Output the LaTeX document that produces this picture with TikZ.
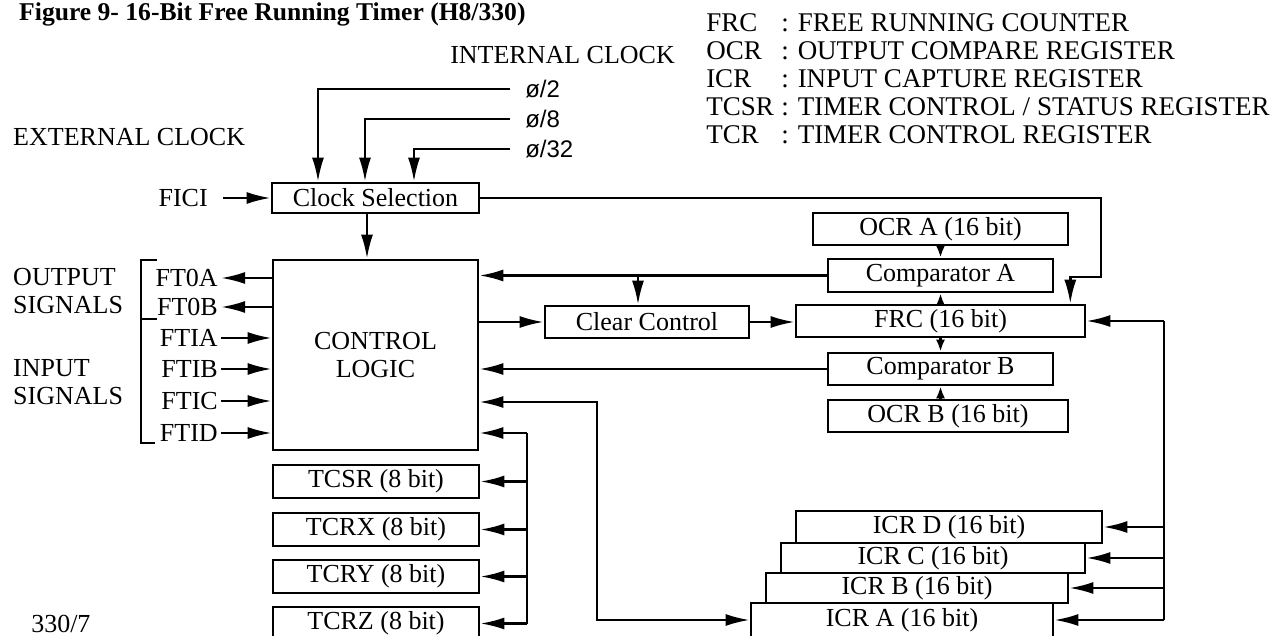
\documentclass[tikz,border=0pt]{standalone}
\usepackage{fontspec}
\setmainfont{Liberation Serif}
\newfontfamily\phifont{Liberation Sans}
\usetikzlibrary{arrows.meta}

\begin{document}
\begin{tikzpicture}[x=0.5pt, y=-0.5pt, >={Latex[length=12pt,width=6pt]},
    line width=1.25pt, font=\fontsize{13}{14}\selectfont,
    box/.style={draw, rectangle, inner sep=0pt, line width=1.3pt},
    tip/.style={-{Latex[length=6pt,width=4.5pt]}},
    txt/.style={inner sep=1pt},
    phi/.style={font=\phifont\fontsize{12}{14}\selectfont, inner xsep=7pt, inner ysep=1pt, anchor=west}]

  \useasboundingbox (0,0) rectangle (1275,636);
  \clip (0,0) rectangle (1275,636);

  % heading and legend
  \node[txt, anchor=west, font=\fontsize{12.8}{14}\selectfont\bfseries] (title) at (16,14) {Figure 9- 16-Bit Free Running Timer (H8/330)};
  \foreach \ab/\txt [count=\i] in {FRC/FREE RUNNING COUNTER, OCR/OUTPUT COMPARE REGISTER,
      ICR/INPUT CAPTURE REGISTER, TCSR/{TIMER CONTROL / STATUS REGISTER}, TCR/TIMER CONTROL REGISTER}
  {
    \node[txt, anchor=west, font=\fontsize{13.5}{14}\selectfont] (key\i) at (703,{23+28*(\i-1)}) {\ab};
    \node[txt, anchor=west, font=\fontsize{13.5}{14}\selectfont] (def\i) at (778,{23+28*(\i-1)}) {: \txt};
  }

  % clock sources
  \node[txt, anchor=west] (intclk) at (447,55) {INTERNAL CLOCK};
  \node[txt, anchor=west] (extclk) at (10,137) {EXTERNAL CLOCK};
  \node[phi] (ph2) at (510,89) {ø/2};
  \node[phi] (ph8) at (510,119) {ø/8};
  \node[phi] (ph32) at (510,149) {ø/32};
  \node[box, minimum width=103.5pt, minimum height=15pt] (clk) at (375.5,198) {Clock Selection};
  \node[txt, anchor=east, inner xsep=7pt] (fici) at (223,198) {FICI};

  \draw[->] (fici) -- (clk);
  \draw[->] (ph2.west) -| ([xshift=-28.75pt]clk.north);
  \draw[->] (ph8.west) -| ([xshift=-5.25pt]clk.north);
  \draw[->] (ph32.west) -| ([xshift=19.25pt]clk.north);

  % control logic and its pins
  \node[box, minimum width=102.5pt, minimum height=95pt, align=center] (ctl) at (375.5,355) {CONTROL\\LOGIC};
  \draw[->] ([xshift=-4.25pt]clk.south) -- ([xshift=-4.25pt]ctl.north);

  \foreach \p/\y in {FT0A/278, FT0B/307}
  {
    \node[txt, anchor=east] (\p) at (221,\y) {\p};
    \draw[->] (ctl.west |- \p) -- (\p);
  }
  \foreach \p/\y in {FTIA/338, FTIB/369, FTIC/401, FTID/433}
  {
    \node[txt, anchor=east] (\p) at (221,\y) {\p};
    \draw[->] (\p) -- (ctl.west |- \p);
  }
  \draw (157,260) -- (141,260) -- (141,443) -- (155,443) (141,319) -- (157,319);
  \node[txt, anchor=west, align=left] (outsig) at (10,291) {OUTPUT\\SIGNALS};
  \node[txt, anchor=west, align=left] (insig) at (10,382) {INPUT\\SIGNALS};

  % timer control registers
  \foreach \b/\y in {TCSR/481.5, TCRX/529.5, TCRY/576.5, TCRZ/623.5}
    \node[box, minimum width=103pt, minimum height=16.5pt] (\b) at (376,\y) {\b\ (8 bit)};
  \coordinate (ctlbus) at (527,433);
  \draw[->] (ctlbus) -- (ctlbus -| ctl.east);
  \draw (ctlbus) -- (ctlbus |- TCRZ.east);
  \foreach \b in {TCSR,TCRX,TCRY,TCRZ}
    \draw[->] (ctlbus |- \b.east) -- (\b.east);

  % counter, compare registers
  \node[box, minimum width=102pt, minimum height=16pt] (clr) at (647,322) {Clear Control};
  \node[box, minimum width=127.5pt, minimum height=16pt] (ocra) at (940.5,229) {OCR A (16 bit)};
  \node[box, minimum width=112.5pt, minimum height=16.5pt] (cmpa) at (940.5,275.5) {Comparator A};
  \node[box, minimum width=144.5pt, minimum height=16pt] (frc) at (940.5,321) {FRC (16 bit)};
  \node[box, minimum width=112.5pt, minimum height=16pt] (cmpb) at (940.5,369) {Comparator B};
  \node[box, minimum width=120pt, minimum height=16pt] (ocrb) at (948,416) {OCR B (16 bit)};

  \draw[tip] (ocra) -- (cmpa);
  \draw[tip] (frc) -- (cmpa);
  \draw[tip] (frc) -- (cmpb);
  \draw[tip] (cmpb.south |- ocrb.north) -- (cmpb.south);

  \coordinate (tap) at ([xshift=-4.5pt]clr.north);
  \draw[->] (cmpa) -- (cmpa -| ctl.east);
  \draw[->] (tap |- cmpa) -- (tap);
  \draw[->] (ctl.east |- clr) -- (clr);
  \draw[->] (clr.east) -- (clr.east -| frc.west);
  \draw[->] (cmpb) -- (cmpb -| ctl.east);

  \coordinate (clkbend) at (1101,277);
  \draw[->] (clk.east) -| (clkbend) -| ([xshift=-8pt]frc.north east);

  % input capture registers
  \node[box, minimum width=153pt, minimum height=16pt] (icrd) at (949,527) {ICR D (16 bit)};
  \node[box, minimum width=152pt, minimum height=15pt] (icrc) at (933,558) {ICR C (16 bit)};
  \node[box, minimum width=151pt, minimum height=15pt] (icrb) at (917,588) {ICR B (16 bit)};
  \node[box, minimum width=151pt, minimum height=17pt] (icra) at (902,620) {ICR A (16 bit)};

  \coordinate (capbus) at (1164,321);
  \draw[->] (capbus) -- (frc.east);
  \draw (capbus) -- (capbus |- icra.east);
  \foreach \r in {icrd,icrc,icrb,icra}
    \draw[->] (capbus |- \r.east) -- (\r.east);

  \coordinate (icbend) at (597,402);
  \draw[<->] (icbend -| ctl.east) -- (icbend) |- (icra.west);

  \node[txt, anchor=west] (pgno) at (28,624) {330/7};
\end{tikzpicture}
\end{document}
